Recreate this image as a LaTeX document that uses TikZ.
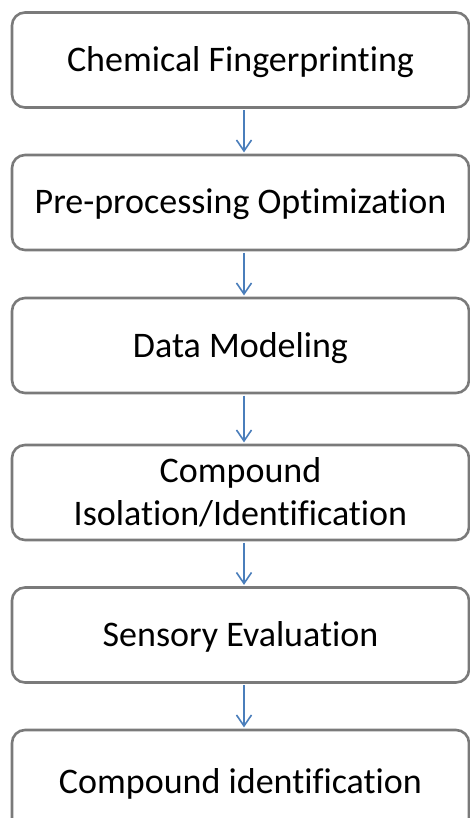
\documentclass[tikz,border=0pt]{standalone}
\usepackage{fontspec}
\setmainfont[Ligatures={NoCommon}]{Carlito}
\usetikzlibrary{arrows.meta}
\definecolor{boxgray}{HTML}{7A7A7A}
\definecolor{arrowblue}{HTML}{4A7EBB}
\begin{document}
\begin{tikzpicture}[x=1pt,y=-1pt,
  stepbox/.style={draw=boxgray, line width=2.6pt, rounded corners=13pt, fill=white,
    minimum width=457pt, minimum height=95pt, align=center, inner sep=0pt,
    font=\fontsize{36}{43}\selectfont},
  oneline/.style={text height=23pt, text depth=0pt},
  flow/.style={draw=arrowblue, line width=1.6pt,
    -{Straight Barb[length=11pt,width=15pt,line width=1.6pt]}}]
\useasboundingbox (0,0) rectangle (470,818);
\fill[white] (0,0) rectangle (470,818);
\node[stepbox, oneline] (b1) at (240.5,60) {Chemical Fingerprinting};
\node[stepbox, oneline] (b2) at (240.5,202.5) {Pre-processing Optimization};
\node[stepbox, oneline] (b3) at (240.5,345.5) {Data Modeling};
\node[stepbox] (b4) at (240.5,492.5) {Compound\\Isolation/Identification};
\node[stepbox, oneline] (b5) at (240.5,635) {Sensory Evaluation};
\node[stepbox, oneline, minimum height=104pt] (b6) at (240.5,782) {Compound identification};
\foreach \a/\b in {b1/b2,b2/b3,b3/b4,b4/b5,b5/b6}{
  \draw[flow] ([xshift=3.5pt,yshift=-1.3pt]\a.south) -- ([xshift=3.5pt,yshift=1.3pt]\b.north);
}
\end{tikzpicture}
\end{document}
